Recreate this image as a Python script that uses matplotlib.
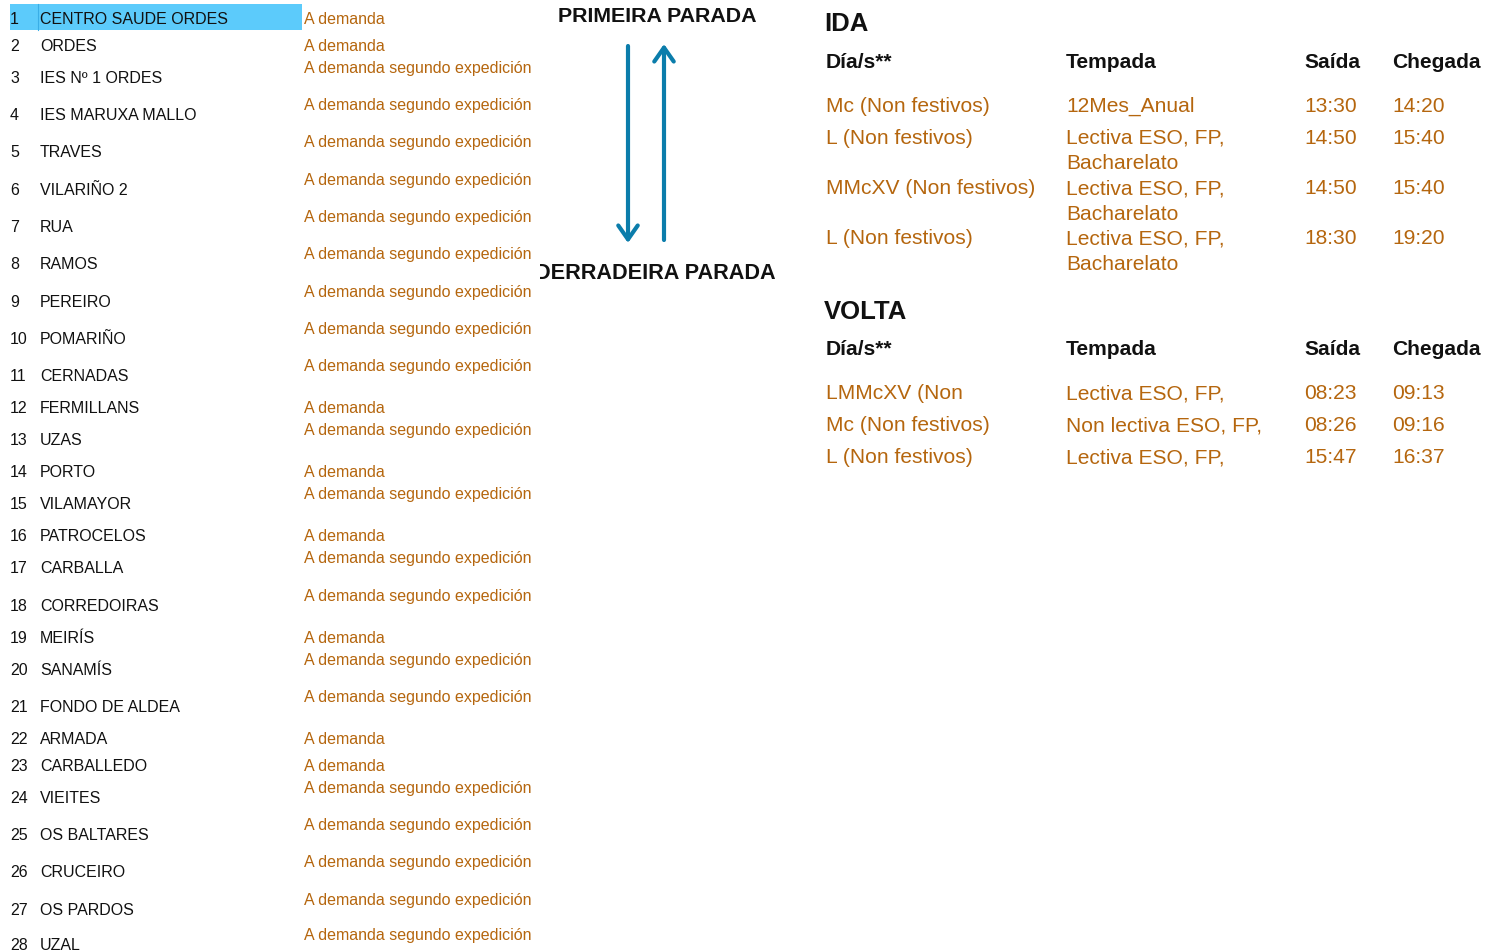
import matplotlib
matplotlib.use('Agg')
import matplotlib.pyplot as plt
from matplotlib.patches import Rectangle
from matplotlib.transforms import Bbox, TransformedBbox

plt.rcParams['font.family'] = ['Liberation Sans', 'DejaVu Sans']

# stops along the route
stop_names = ['CENTRO SAUDE ORDES', 'ORDES', 'IES Nº 1 ORDES', 'IES MARUXA MALLO', 'TRAVES',
              'VILARIÑO 2', 'RUA', 'RAMOS', 'PEREIRO', 'POMARIÑO', 'CERNADAS', 'FERMILLANS',
              'UZAS', 'PORTO', 'VILAMAYOR', 'PATROCELOS', 'CARBALLA', 'CORREDOIRAS', 'MEIRÍS',
              'SANAMÍS', 'FONDO DE ALDEA', 'ARMADA', 'CARBALLEDO', 'VIEITES', 'OS BALTARES',
              'CRUCEIRO', 'OS PARDOS', 'UZAL']
short_note = 'A demanda'
long_note = 'A demanda segundo expedición'
on_demand_only = [1, 2, 12, 14, 16, 19, 22, 23]   # stop numbers with just "A demanda"

# timetable
table_header = ['Día/s**', 'Tempada', 'Saída', 'Chegada']
ida_days = ['Mc (Non festivos)', 'L (Non festivos)', 'MMcXV (Non festivos)', 'L (Non festivos)']
ida_season = ['12Mes_Anual', 'Lectiva ESO, FP,\nBacharelato', 'Lectiva ESO, FP,\nBacharelato',
              'Lectiva ESO, FP,\nBacharelato']
ida_dep = ['13:30', '14:50', '14:50', '18:30']
ida_arr = ['14:20', '15:40', '15:40', '19:20']
volta_days = ['LMMcXV (Non', 'Mc (Non festivos)', 'L (Non festivos)']
volta_season = ['Lectiva ESO, FP,', 'Non lectiva ESO, FP,', 'Lectiva ESO, FP,']
volta_dep = ['08:23', '08:26', '15:47']
volta_arr = ['09:13', '09:16', '16:37']

# layout (pixel rows of the original sheet)
row_y = [18, 45, 77, 114, 151, 189, 226, 263, 301, 338, 375, 407, 439, 471, 503, 535, 567,
         605, 637, 669, 706, 738, 765, 797, 834, 871, 909, 944]
ida_row_y = [104, 136, 187, 237]
volta_row_y = [392, 424, 456]
col_x = [826, 1066, 1304, 1392]

BLACK = '#111111'
ORANGE = '#b5660e'
BLUE = '#0b7dab'

W, H = 1497, 953
fig = plt.figure(figsize=(W / 100, H / 100), dpi=100)
ax = fig.add_axes([0, 0, 1, 1])
ax.set_xlim(0, W)
ax.set_ylim(H, 0)
ax.axis('off')

# highlighted first stop
ax.add_patch(Rectangle((10, 5), 292, 26, color='#5ccbfb', lw=0, zorder=0))
ax.plot([38, 38], [5, 31], color='#3aaee6', lw=0.8, zorder=1)

small = 11.5
for i, name in enumerate(stop_names):
    n = i + 1
    base = row_y[i] + 6
    ax.text(10, base, str(n), fontsize=small, color=BLACK, va='baseline')
    ax.text(40, base, name, fontsize=small, color=BLACK, va='baseline')
    if n in on_demand_only:
        ax.text(304, base, short_note, fontsize=small, color=ORANGE, va='baseline')
    else:
        ax.text(304, base - 10, long_note, fontsize=small, color=ORANGE, va='baseline')

# direction arrows
ax.text(657, 22, 'PRIMEIRA PARADA', fontsize=15.4, fontweight='bold', ha='center',
        va='baseline', color=BLACK)
t = ax.text(655, 279, 'DERRADEIRA PARADA', fontsize=15.6, fontweight='bold', ha='center',
            va='baseline', color=BLACK)
t.set_clip_box(TransformedBbox(Bbox([[540 / W, 0], [1, 1]]), ax.transAxes))
t.set_clip_on(True)

astyle = dict(arrowstyle='->, head_length=0.5, head_width=0.35', color=BLUE, lw=3.0,
              shrinkA=0, shrinkB=0, mutation_scale=20)
ax.annotate('', xy=(628, 244), xytext=(628, 47), arrowprops=astyle)
ax.annotate('', xy=(664, 45), xytext=(664, 241), arrowprops=astyle)

big = 15.1


def draw_block(title, title_y, header_y, rows_y, days, season, dep, arr):
    ax.text(824, title_y + 9, title, fontsize=18.5, fontweight='bold', color=BLACK,
            va='baseline')
    for x, h in zip(col_x, table_header):
        ax.text(x, header_y + 7.5, h, fontsize=big, fontweight='bold', color=BLACK,
                va='baseline')
    for y, cells in zip(rows_y, zip(days, season, dep, arr)):
        for x, cell in zip(col_x, cells):
            for k, line in enumerate(cell.split('\n')):
                ax.text(x, y + 7.5 + 25.5 * k, line, fontsize=big, color=ORANGE,
                        va='baseline')


draw_block('IDA', 22, 60, ida_row_y, ida_days, ida_season, ida_dep, ida_arr)
draw_block('VOLTA', 310, 348, volta_row_y, volta_days, volta_season, volta_dep, volta_arr)

fig.savefig('out.png', dpi=100)
